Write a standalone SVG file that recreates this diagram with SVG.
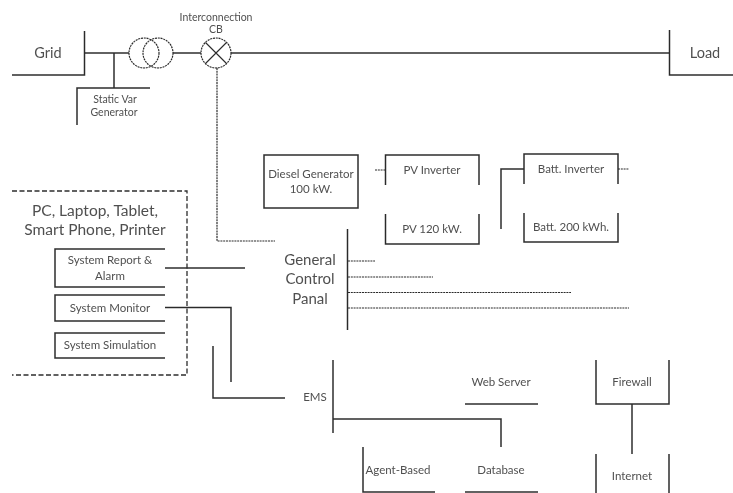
<svg xmlns="http://www.w3.org/2000/svg" width="733" height="493" viewBox="0 0 733 493">
<defs><filter id="soft" x="0" y="0" width="100%" height="100%" filterUnits="userSpaceOnUse"><feGaussianBlur stdDeviation="0.4"/></filter></defs>
<style>
text{font-family:Lato,"Liberation Sans",sans-serif;fill:#505050;text-anchor:middle}
.s{font-size:10.5px}.m{font-size:11.5px}.l{font-size:14.500px}.g{font-size:15px}.x{font-size:15.5px}
path,circle,rect,line{fill:none;stroke:#2c2c2c;stroke-width:1.5}
.t{stroke-width:1.1}
.d{stroke-dasharray:2 .8;stroke-width:1.2}
.dd{stroke-dasharray:5 2.5;stroke-width:1.3}
</style>
<rect x="0" y="0" width="733" height="493" style="fill:#fff;stroke:none"/>
<g filter="url(#soft)">
<g id="connectors">
<path d="M85 53H129"/><path d="M114 53V88"/><path d="M173 53H201"/><path d="M231 53H669"/>
<path class="d" d="M217 68V241H275"/>
<path class="d" d="M375 170H386"/><path class="d" d="M618 169H629"/>
<path d="M501 229V169H524"/>
<path class="d" d="M348 261H375"/><path class="d" d="M348 277H433"/><path class="d" d="M348 292.500H571"/><path class="d" d="M348 308H629"/>
<path d="M165 268H245"/><path d="M165 307.500H231V382"/><path d="M213 346V398H285"/>
<path d="M333 419H501V447"/><path d="M632 404V454"/>
</g>
<g id="grid"><path d="M12 75H84.500V31"/><text class="l" x="48" y="58">Grid</text></g>
<g id="load"><path d="M733 75H669.500V30"/><text class="l" x="705" y="58">Load</text></g>
<g id="svg-generator"><path d="M77 125V88H150"/><text class="s" x="115" y="103">Static Var</text><text class="s" x="114" y="116">Generator</text></g>
<g id="transformer"><circle class="d" cx="144" cy="53" r="15"/><circle class="d" cx="158" cy="53" r="15"/></g>
<g id="interconnection"><text class="s" x="216" y="21">Interconnection</text><text class="s" x="216" y="33">CB</text><circle class="d" cx="216" cy="53" r="15"/><path class="t" d="M205.500 42.500L226.500 63.500M226.500 42.500L205.500 63.500"/></g>
<g id="diesel"><rect x="264" y="155" width="94" height="53"/><text class="m" x="311" y="178">Diesel Generator</text><text class="m" x="311" y="193">100 kW.</text></g>
<g id="pv-inverter"><path d="M385.500 185V155H479V185"/><text class="m" x="432" y="174">PV Inverter</text></g>
<g id="pv"><path d="M385.500 214V244H479V214"/><text class="m" x="432" y="233">PV 120 kW.</text></g>
<g id="batt-inverter"><path d="M524 184V154H618V184"/><text class="m" x="571" y="173">Batt. Inverter</text></g>
<g id="batt"><path d="M524 213V242H618V213"/><text class="m" x="571" y="231">Batt. 200 kWh.</text></g>
<g id="panel"><path d="M347.500 229V330"/><text class="g" x="310" y="265">General</text><text class="g" x="310" y="284">Control</text><text class="g" x="310" y="304">Panal</text></g>
<g id="devices"><path class="dd" d="M12 191H187V375H12"/><text class="x" x="95" y="216">PC, Laptop, Tablet,</text><text class="x" x="95" y="235">Smart Phone, Printer</text></g>
<g id="report"><path d="M165 249H55V287H165"/><text class="m" x="110" y="264">System Report &amp;</text><text class="m" x="110" y="280">Alarm</text></g>
<g id="monitor"><path d="M165 295H55V321H165"/><text class="m" x="110" y="312">System Monitor</text></g>
<g id="simulation"><path d="M165 333H55V358H165"/><text class="m" x="110" y="349">System Simulation</text></g>
<g id="ems"><path d="M333 360V433"/><text class="m" x="315" y="401">EMS</text></g>
<g id="web-server"><path d="M465 404H538"/><text class="m" x="501" y="386">Web Server</text></g>
<g id="agent"><path d="M363 447V492H435"/><text class="m" x="398" y="474">Agent-Based</text></g>
<g id="database"><path d="M465 492H538"/><text class="m" x="501" y="474">Database</text></g>
<g id="firewall"><path d="M596 360V404H669V360"/><text class="m" x="632" y="386">Firewall</text></g>
<g id="internet"><path d="M596 454V493M669 454V493"/><text class="m" x="632" y="480">Internet</text></g>
</g>
</svg>
